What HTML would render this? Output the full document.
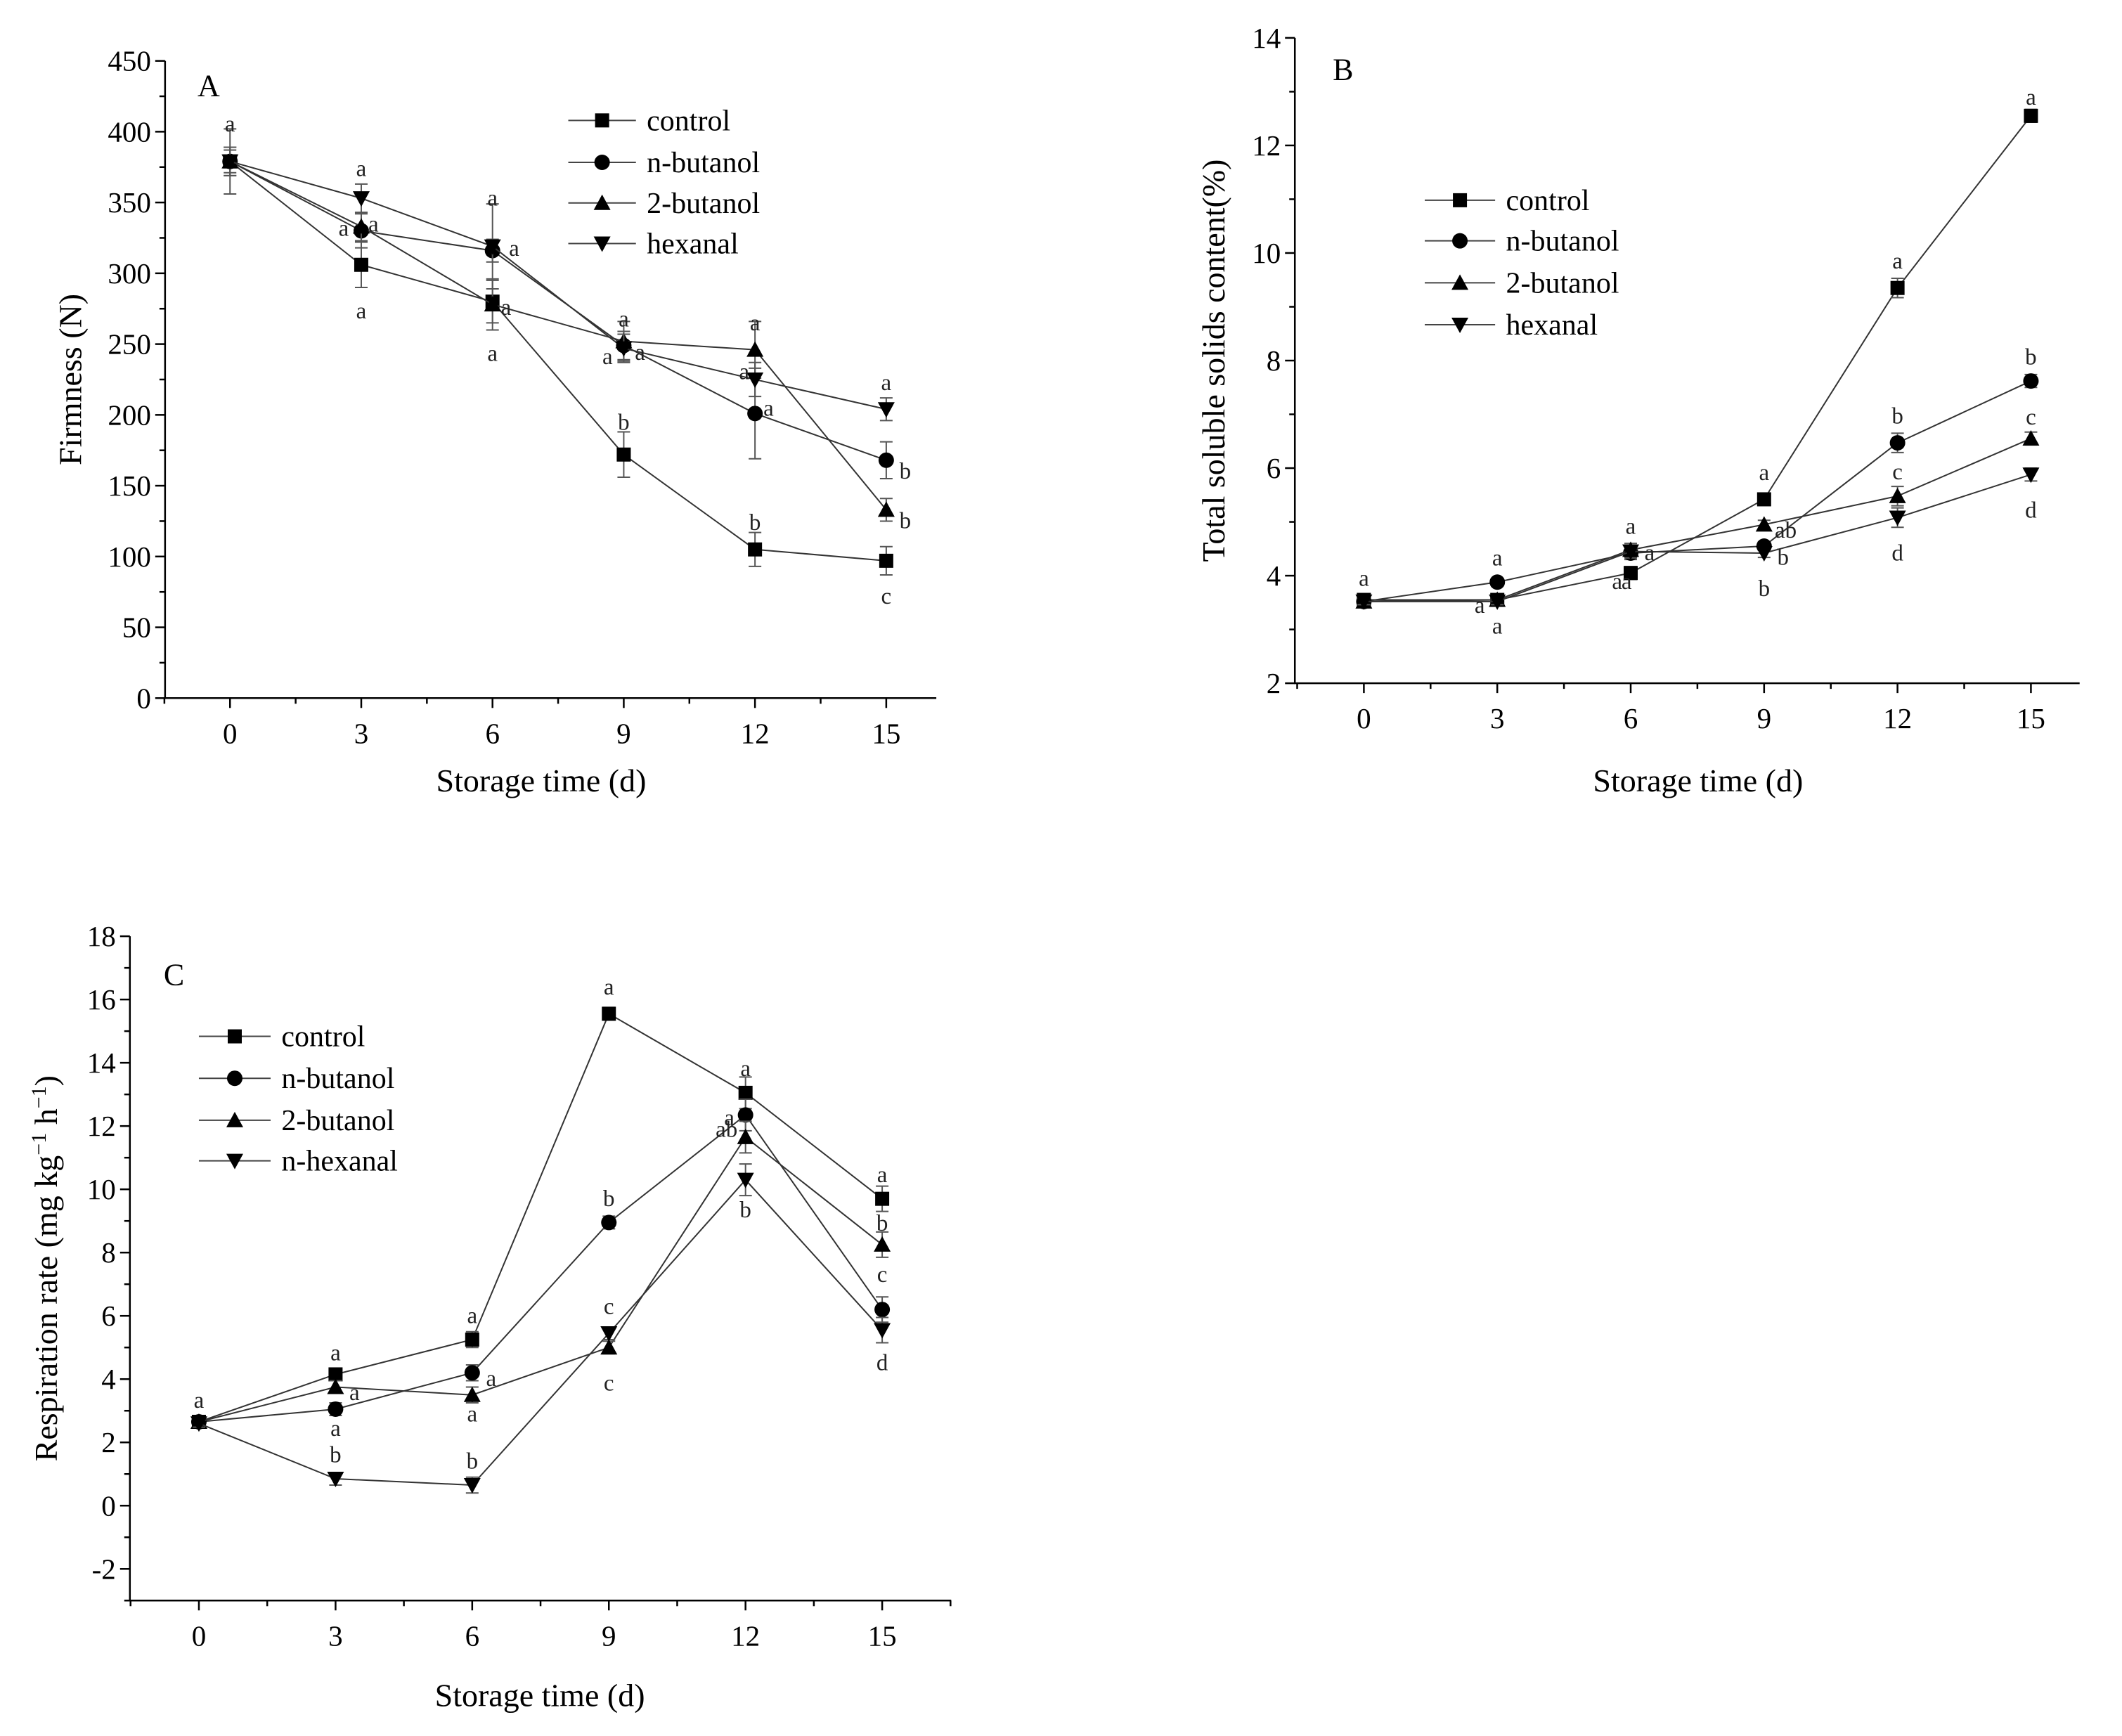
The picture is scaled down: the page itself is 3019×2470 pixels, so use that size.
<!DOCTYPE html>
<html><head><meta charset="utf-8">
<style>
html,body{margin:0;padding:0;background:#fff;}
svg{display:block;font-family:"Liberation Serif","DejaVu Serif",serif;}
</style></head>
<body>
<svg id="fig" width="3019" height="2470" viewBox="0 0 3019 2470" xmlns="http://www.w3.org/2000/svg"></svg>
<script>
// ---- data ----
const days = [0, 3, 6, 9, 12, 15];
const seriesNamesAB = ["control", "n-butanol", "2-butanol", "hexanal"];
const seriesNamesC = ["control", "n-butanol", "2-butanol", "n-hexanal"];

const firmControl = [379, 306, 280, 172, 105, 97];
const firmNButanol = [379, 330, 316, 249, 201, 168];
const firm2Butanol = [379, 333, 278, 252, 246, 133];
const firmHexanal = [379, 353, 319, 247, 225, 204];
const firmErrControl = [23, 16, 15, 16, 12, 10];
const firmErrNButanol = [10, 12, 8, 10, 32, 13];
const firmErr2Butanol = [10, 10, 18, 14, 20, 8];
const firmErrHexanal = [8, 10, 30, 10, 12, 8];
const firmTicks = [0, 50, 100, 150, 200, 250, 300, 350, 400, 450];

const tssControl = [3.55, 3.55, 4.05, 5.42, 9.35, 12.55];
const tssNButanol = [3.52, 3.88, 4.42, 4.55, 6.47, 7.62];
const tss2Butanol = [3.52, 3.55, 4.48, 4.95, 5.48, 6.55];
const tssHexanal = [3.52, 3.52, 4.45, 4.42, 5.08, 5.88];
const tssErr = [0.06, 0.06, 0.12, 0.08, 0.18, 0.12];
const tssTicks = [2, 4, 6, 8, 10, 12, 14];

const respControl = [2.65, 4.15, 5.25, 15.55, 13.05, 9.7];
const respNButanol = [2.65, 3.05, 4.2, 8.95, 12.35, 6.2];
const resp2Butanol = [2.65, 3.75, 3.5, 5.0, 11.65, 8.25];
const respHexanal = [2.6, 0.85, 0.65, 5.45, 10.3, 5.55];
const respErr = [0.12, 0.2, 0.25, 0.2, 0.5, 0.4];
const respTicks = [-2, 0, 2, 4, 6, 8, 10, 12, 14, 16, 18];

// annotations: [series, dayIndex, text, dx, dy] (offsets in thumbnail px)
const annA = [[0,0,"a",0,-28],[0,1,"a",0,34],[0,2,"a",0,38],[0,3,"b",0,-24],[0,4,"b",0,-20],[0,5,"c",0,26],
 [1,1,"a",-13,-2],[1,2,"a",16,-2],[1,3,"a",-12,8],[1,4,"a",10,-4],[1,5,"b",14,8],
 [2,1,"a",9,-2],[2,2,"a",10,2],[2,3,"a",12,8],[2,4,"a",0,-20],[2,5,"b",14,8],
 [3,1,"a",0,-22],[3,2,"a",0,-36],[3,3,"a",0,-22],[3,4,"a",-8,-6],[3,5,"a",0,-20]];
const annB = [[0,0,"a",0,-16],[0,3,"a",0,-20],[0,4,"a",0,-20],[0,5,"a",0,-14],[0,2,"a",-10,6],[0,1,"a",-13,4],
 [1,1,"a",0,-18],[1,2,"a",0,-20],[1,3,"b",14,8],[1,4,"b",0,-20],[1,5,"b",0,-18],
 [2,3,"ab",16,4],[2,4,"c",0,-18],[2,5,"c",0,-16],[2,2,"a",14,2],
 [3,1,"a",0,18],[3,2,"a",-3,22],[3,3,"b",0,26],[3,4,"d",0,26],[3,5,"d",0,26]];
const annC = [[0,0,"a",0,-16],[0,1,"a",0,-16],[0,2,"a",0,-18],[0,3,"a",0,-20],[0,4,"a",0,-18],[0,5,"a",0,-18],
 [1,1,"a",0,14],[1,2,"a",14,4],[1,3,"b",0,-18],[1,4,"a",-12,2],[1,5,"c",0,-26],
 [2,1,"a",14,4],[2,2,"a",0,14],[2,3,"c",0,26],[2,4,"ab",-14,-6],[2,5,"b",0,-16],
 [3,1,"b",0,-18],[3,2,"b",0,-18],[3,3,"c",0,-20],[3,4,"b",0,22],[3,5,"d",0,24]];

// ---- drawing ----
const S = 1.925;
const NS = "http://www.w3.org/2000/svg";
const svg = document.getElementById('fig');
function el(tag, attrs, parent, text) {
  const e = document.createElementNS(NS, tag);
  for (const k in attrs) e.setAttribute(k, attrs[k]);
  if (text !== undefined) e.textContent = text;
  (parent || svg).appendChild(e);
  return e;
}
function marker(g, kind, x, y, r) {
  let m;
  if (kind === 0) m = el('rect', {x: x - r, y: y - r, width: 2 * r, height: 2 * r, fill: '#000'}, g);
  else if (kind === 1) m = el('circle', {cx: x, cy: y, r: r * 1.1, fill: '#000'}, g);
  else if (kind === 2) m = el('polygon', {points: `${x},${y - r * 1.2} ${x + r * 1.2},${y + r} ${x - r * 1.2},${y + r}`, fill: '#000'}, g);
  else m = el('polygon', {points: `${x},${y + r * 1.2} ${x + r * 1.2},${y - r} ${x - r * 1.2},${y - r}`, fill: '#000'}, g);
  return m;
}

function panel(cfg) {
  const g = el('g', {});
  
  
  const L = cfg.axL * S, T = cfg.axT * S, B = cfg.axB * S, R = cfg.axR * S;
  const x0 = cfg.x0 * S, x15 = cfg.x15 * S;
  const xs = d => x0 + (x15 - x0) * d / 15;
  const ys = v => B - (v - cfg.ymin) / (cfg.ymax - cfg.ymin) * (B - T);
  const ax = el('path', {d: `M${L},${T} L${L},${B} L${R},${B}`, stroke: '#000', 'stroke-width': 2.5, fill: 'none'}, g);
  
  
  for (let v = cfg.ymin; v <= cfg.ymax + 1e-9; v += cfg.yminor) {
    const y = ys(v);
    const major = cfg.yticks.some(t => Math.abs(t - v) < 1e-6);
    el('line', {x1: L - (major ? 14 : 8), x2: L, y1: y, y2: y, stroke: '#000', 'stroke-width': 2.5}, g);
  }
  cfg.yticks.forEach(t => {
    const tl = el('text', {x: L - 20, y: ys(t) + 14, 'text-anchor': 'end', 'font-size': 41}, g, String(t));
    
    
  });
  for (let d = -1.5; d <= 16.5; d += 1.5) {
    const x = xs(d);
    if (x < L - 1 || x > R + 1) continue;
    const major = Math.abs(d % 3) < 1e-6;
    el('line', {x1: x, x2: x, y1: B, y2: B + (major ? 14 : 8), stroke: '#000', 'stroke-width': 2.5}, g);
  }
  days.forEach(d => {
    const tl = el('text', {x: xs(d), y: B + 64, 'text-anchor': 'middle', 'font-size': 41}, g, String(d));
    
    
  });
  const xt = el('text', {x: cfg.xlabX * S, y: cfg.xlabY * S, 'text-anchor': 'middle', 'font-size': 46}, g, 'Storage time (d)');
  
  
  const yt = el('text', {x: 0, y: 0, 'text-anchor': 'middle', 'font-size': 46,
    transform: `translate(${cfg.ylabX * S},${(T + B) / 2}) rotate(-90)`}, g);
  
  
  if (cfg.resp) {
    yt.textContent = 'Respiration rate (mg kg';
    el('tspan', {dy: -16, 'font-size': 30}, yt, '\u2212' + '1');
    el('tspan', {dy: 16}, yt, ' h');
    el('tspan', {dy: -16, 'font-size': 30}, yt, '\u2212' + '1');
    el('tspan', {dy: 16}, yt, ')');
  } else yt.textContent = cfg.ylabel;
  const pl = el('text', {x: cfg.letX * S, y: cfg.letY * S, 'font-size': 44}, g, cfg.letter);
  
  
  cfg.series.forEach((vals, si) => {
    const sg = el('g', {}, g);
    
    
    const pts = vals.map((v, i) => `${xs(days[i])},${ys(v)}`).join(' ');
    el('polyline', {points: pts, fill: 'none', stroke: '#333', 'stroke-width': 2}, sg);
    vals.forEach((v, i) => {
      const e = cfg.errs[si][i];
      const x = xs(days[i]);
      el('line', {x1: x, x2: x, y1: ys(v - e), y2: ys(v + e), stroke: '#555', 'stroke-width': 2}, sg);
      el('line', {x1: x - 9, x2: x + 9, y1: ys(v + e), y2: ys(v + e), stroke: '#555', 'stroke-width': 2}, sg);
      el('line', {x1: x - 9, x2: x + 9, y1: ys(v - e), y2: ys(v - e), stroke: '#555', 'stroke-width': 2}, sg);
      const m = marker(sg, si, x, ys(v), 10);
      
      
    });
  });
  cfg.ann.forEach(a => {
    const [si, di, t, dx, dy] = a;
    const x = xs(days[di]) + dx * S, y = ys(cfg.series[si][di]) + dy * S + 11;
    const at = el('text', {x: x, y: y, 'text-anchor': 'middle', 'font-size': 33, fill: '#222'}, g, t);
    
    
  });
  const lg = el('g', {}, g);
  
  
  cfg.names.forEach((n, i) => {
    const y = cfg.legRows[i] * S;
    const eg = el('g', {}, lg);
    
    
    el('line', {x1: cfg.legX1 * S, x2: cfg.legX2 * S, y1: y, y2: y, stroke: '#444', 'stroke-width': 2}, eg);
    marker(eg, i, (cfg.legX1 + cfg.legX2) / 2 * S, y, 10);
    el('text', {x: cfg.legT * S, y: y + 14, 'font-size': 42}, eg, n);
  });
}

panel({name: 'panel-a-firmness', letter: 'A', axL: 122, axT: 45, axB: 516, axR: 692, x0: 170, x15: 655,
  ymin: 0, ymax: 450, yticks: firmTicks, yminor: 25, ylabel: 'Firmness (N)', ylabX: 60,
  xlabX: 400, xlabY: 585, letX: 146, letY: 71,
  series: [firmControl, firmNButanol, firm2Butanol, firmHexanal],
  errs: [firmErrControl, firmErrNButanol, firmErr2Butanol, firmErrHexanal],
  names: seriesNamesAB, ann: annA, legRows: [89, 120, 150, 180], legX1: 420, legX2: 470, legT: 478});

panel({name: 'panel-b-tss', letter: 'B', axL: 957, axT: 28, axB: 505, axR: 1537, x0: 1008, x15: 1501,
  ymin: 2, ymax: 14, yticks: tssTicks, yminor: 1, ylabel: 'Total soluble solids content(%)', ylabX: 905,
  xlabX: 1255, xlabY: 585, letX: 985, letY: 59,
  series: [tssControl, tssNButanol, tss2Butanol, tssHexanal],
  errs: [tssErr, tssErr, tssErr, tssErr],
  names: seriesNamesAB, ann: annB, legRows: [148, 178, 209, 240], legX1: 1053, legX2: 1105, legT: 1113});

panel({name: 'panel-c-respiration', letter: 'C', resp: true, axL: 96, axT: 692, axB: 1183, axR: 703, x0: 147, x15: 652,
  ymin: -3, ymax: 18, yticks: respTicks, yminor: 1, ylabel: '', ylabX: 42,
  xlabX: 399, xlabY: 1261, letX: 121, letY: 728,
  series: [respControl, respNButanol, resp2Butanol, respHexanal],
  errs: [respErr, respErr, respErr, respErr],
  names: seriesNamesC, ann: annC, legRows: [766, 797, 828, 858], legX1: 147, legX2: 200, legT: 208});
</script>
</body></html>
